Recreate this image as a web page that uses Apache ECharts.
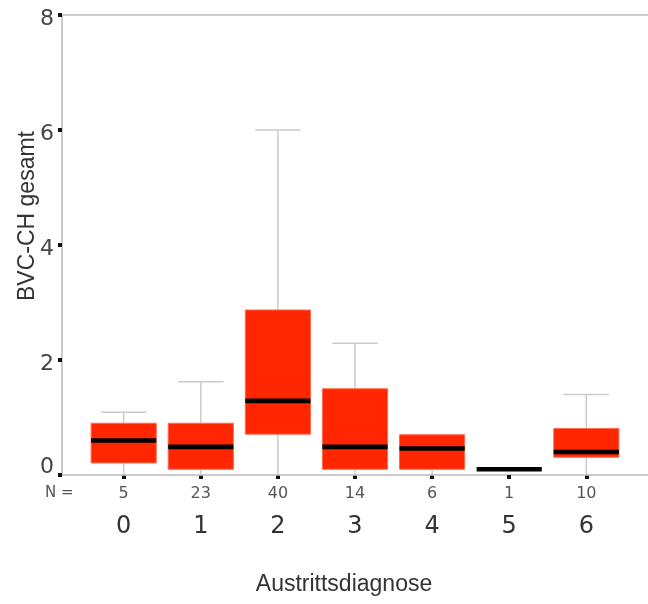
<!DOCTYPE html>
<html>
<head>
<meta charset="utf-8">
<script src="https://cdn.jsdelivr.net/npm/echarts@6/dist/echarts.min.js"></script>
<style>html,body{margin:0;padding:0;background:#fff}#c{width:648px;height:604px}</style>
</head>
<body>
<div id="c"></div>
<script>
const categories = ['0', '1', '2', '3', '4', '5', '6'];
const nCounts = [5, 23, 40, 14, 6, 1, 10];
const mins = [0, 0, 0, 0, 0, 0.1, 0];
const q1s = [0.21, 0.10, 0.71, 0.10, 0.10, 0.1, 0.31];
const medians = [0.60, 0.49, 1.29, 0.49, 0.46, 0.1, 0.40];
const q3s = [0.90, 0.90, 2.87, 1.50, 0.70, 0.1, 0.81];
const maxs = [1.09, 1.62, 6.00, 2.29, 0.70, 0.1, 1.40];
const yTicks = [0, 2, 4, 6, 8];

const catIdx = categories.map((c, i) => i);
const boxData = categories.map((c, i) => [i, mins[i], q1s[i], medians[i], q3s[i], maxs[i]]);

const chart = echarts.init(document.getElementById('c'), null, {renderer: 'canvas'});
const lineGray = '#cbcbcb';
chart.setOption({
  animation: false,
  backgroundColor: '#fff',
  grid: {left: 62, right: -8, top: 15, bottom: 129},
  xAxis: [{
    type: 'value', min: -0.8, max: 6.8,
    axisLine: {show: true, onZero: false, lineStyle: {color: lineGray, width: 2}},
    axisTick: {show: true, customValues: catIdx, length: 4, lineStyle: {color: '#111', width: 4}},
    splitLine: {show: false},
    axisLabel: {
      customValues: catIdx, margin: 8,
      formatter: v => '{n|' + nCounts[v] + '}\n{c|' + categories[v] + '}',
      rich: {
        n: {fontFamily: 'DejaVu Sans', fontSize: 16, color: '#555', lineHeight: 22},
        c: {fontFamily: 'DejaVu Sans', fontSize: 24, color: '#333', lineHeight: 44}
      }
    }
  }, {
    type: 'value', min: -0.8, max: 6.8, position: 'top',
    axisLine: {show: true, onZero: false, lineStyle: {color: lineGray, width: 2}},
    axisTick: {show: false}, axisLabel: {show: false}, splitLine: {show: false}
  }],
  yAxis: {
    type: 'value', min: 0, max: 8, interval: 2,
    axisLine: {show: true, onZero: false, lineStyle: {color: lineGray, width: 2}},
    axisTick: {show: true, length: 4, lineStyle: {color: '#111', width: 4}},
    splitLine: {show: false},
    axisLabel: {
      margin: 8,
      formatter: v => v === 0 ? '{z|0}' : '{d|' + v + '}',
      rich: {
        d: {fontFamily: 'DejaVu Sans', fontSize: 22, color: '#444', padding: [8, 0, 0, 0]},
        z: {fontFamily: 'DejaVu Sans', fontSize: 22, color: '#444', padding: [0, 0, 16, 0]}
      }
    }
  },
  graphic: [
    {type: 'text', left: 45, top: 486, style: {text: 'N =', fontFamily: 'DejaVu Sans', fontSize: 15, fill: '#555'}},
    {type: 'text', x: 344, y: 585, style: {text: 'Austrittsdiagnose', fontFamily: 'Liberation Sans', fontSize: 23, fill: '#333', align: 'center', verticalAlign: 'middle'}},
    {type: 'text', x: 28, y: 216, rotation: Math.PI / 2, style: {text: 'BVC-CH gesamt', fontFamily: 'Liberation Sans', fontSize: 23, fill: '#333', align: 'center', verticalAlign: 'middle'}}
  ],
  series: [{
    type: 'custom',
    xAxisIndex: 0,
    data: boxData,
    encode: {x: 0, y: [1, 2, 3, 4, 5]},
    renderItem: function (params, api) {
      const i = api.value(0);
      const band = api.size([1, 0])[0];
      const bw = band * 0.845, cw = band * 0.59;
      const pMin = api.coord([i, api.value(1)]);
      const pQ1 = api.coord([i, api.value(2)]);
      const pMed = api.coord([i, api.value(3)]);
      const pQ3 = api.coord([i, api.value(4)]);
      const pMax = api.coord([i, api.value(5)]);
      const cx = pMed[0];
      const wStyle = {stroke: lineGray, lineWidth: 1.5};
      const children = [];
      if (api.value(5) > api.value(4)) {
        children.push({type: 'line', shape: {x1: cx, y1: pQ3[1], x2: cx, y2: pMax[1]}, style: wStyle});
        children.push({type: 'line', shape: {x1: cx - cw / 2, y1: pMax[1], x2: cx + cw / 2, y2: pMax[1]}, style: wStyle});
      }
      if (api.value(2) > api.value(1)) {
        children.push({type: 'line', shape: {x1: cx, y1: pQ1[1], x2: cx, y2: pMin[1]}, style: wStyle});
        children.push({type: 'line', shape: {x1: cx - cw / 2, y1: pMin[1], x2: cx + cw / 2, y2: pMin[1]}, style: wStyle});
      }
      if (pQ1[1] - pQ3[1] > 0.5) {
        children.push({type: 'rect', shape: {x: cx - bw / 2, y: pQ3[1], width: bw, height: pQ1[1] - pQ3[1]},
          style: {fill: '#ff2600', stroke: '#ff6a50', lineWidth: 1}});
      }
      children.push({type: 'rect', shape: {x: cx - bw / 2, y: pMed[1] - 2.3, width: bw, height: 4.6}, style: {fill: '#000'}});
      return {type: 'group', children: children};
    }
  }]
});
</script>
</body>
</html>
